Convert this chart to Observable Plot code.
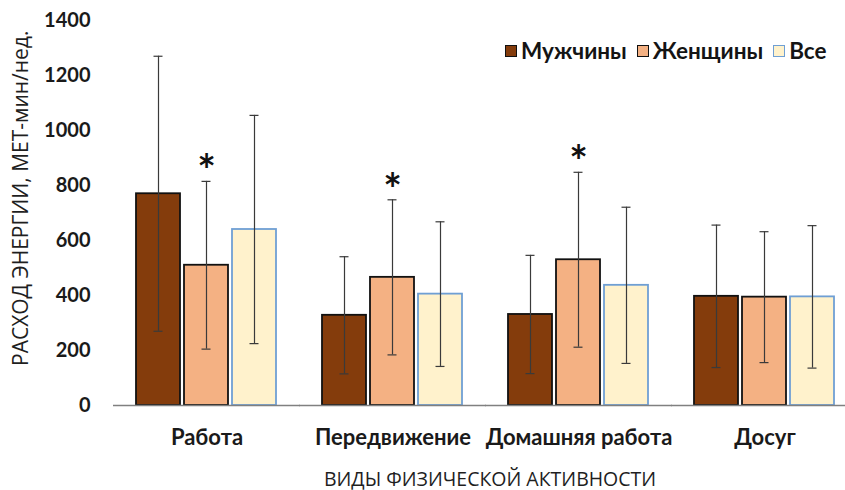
<!DOCTYPE html>
<html>
<head>
<meta charset="utf-8">
<script src="https://cdn.jsdelivr.net/npm/d3@7"></script>
<script src="https://cdn.jsdelivr.net/npm/@observablehq/plot@0.6"></script>
<style>
  html, body { margin: 0; padding: 0; background: #fff; }
  #chart { position: relative; width: 845px; height: 490px; overflow: hidden; }
  .ytitle {
    position: absolute; left: 10px; top: 366px;
    transform-origin: 0 0; transform: rotate(-90deg);
    font-family: "Open Sans", sans-serif; font-size: 21px; line-height: 1; color: #1f1f1f;
    white-space: nowrap;
  }
  .xtitle {
    position: absolute; left: 490px; top: 478px;
    transform: translate(-50%, -50%);
    font-family: "Open Sans", sans-serif; font-size: 19.5px; color: #1f1f1f;
    white-space: nowrap;
  }
  .legend {
    position: absolute; left: 505px; top: 37px;
    display: flex; align-items: center; gap: 10px;
    font-family: Lato, sans-serif; font-weight: bold; font-size: 22.5px; color: #141414;
  }
  .legend .item { display: flex; align-items: center; gap: 4px; }
  .legend .sw { width: 10px; height: 10px; border: 1.6px solid #000; }
</style>
</head>
<body>
<div id="chart"></div>
<script>
// Activity domains and sexes
const categories = ["Работа", "Передвижение", "Домашняя работа", "Досуг"];
const groups = ["Мужчины", "Женщины", "Все"];

// Mean energy expenditure (MET-min/week) and standard deviations
const menMean   = [770, 328, 331, 397];
const menSD     = [500, 213, 215, 259];
const womenMean = [510, 466, 530, 394];
const womenSD   = [305, 282, 318, 238];
const allMean   = [640, 405, 437, 395];
const allSD     = [415, 263, 284, 259];

// Significant difference between women and men
const significant = [true, true, true, false];

const yTicks = [0, 200, 400, 600, 800, 1000, 1200, 1400];

const fills   = {"Мужчины": "#843C0C", "Женщины": "#F4B183", "Все": "#FFF2CC"};
const strokes = {"Мужчины": "#111111", "Женщины": "#111111", "Все": "#6F9FD4"};

const means = [menMean, womenMean, allMean];
const sds = [menSD, womenSD, allSD];
const rows = [];
groups.forEach((g, gi) => {
  categories.forEach((c, ci) => {
    rows.push({
      category: c, group: g,
      mean: means[gi][ci], sd: sds[gi][ci],
      lo: means[gi][ci] - sds[gi][ci], hi: means[gi][ci] + sds[gi][ci],
      star: g === "Женщины" && significant[ci]
    });
  });
});

const barMarks = groups.map(g => Plot.barY(rows.filter(d => d.group === g), {
  fx: "category", x: "group", y: "mean",
  fill: fills[g], stroke: strokes[g], strokeWidth: 1.8
}));

const plot = Plot.plot({
  width: 845, height: 490,
  marginTop: 20, marginBottom: 85, marginLeft: 112, marginRight: 0,
  style: {fontFamily: "Lato, sans-serif", fontSize: "20px", fontWeight: "bold", color: "#1a1a1a", background: "white"},
  y: {domain: [0, 1400], label: null},
  x: {domain: groups, paddingInner: 0.08, paddingOuter: 0, axis: null},
  fx: {domain: categories, paddingInner: 0.233, paddingOuter: 0.0818, align: 0.721, label: null},
  marks: [
    Plot.axisY(yTicks, {tickSize: 0, tickFormat: d => String(d), label: null}),
    Plot.axisFx({anchor: "bottom", tickSize: 0, tickPadding: 24, fontSize: 22, label: null}),
    ...barMarks,
    Plot.ruleX(rows, {fx: "category", x: "group", y1: "lo", y2: "hi", stroke: "#3a3a3a", strokeWidth: 1.2}),
    Plot.tickY(rows, {fx: "category", x: "group", y: "hi", stroke: "#3a3a3a", strokeWidth: 1.2, insetLeft: 17.5, insetRight: 17.5}),
    Plot.tickY(rows, {fx: "category", x: "group", y: "lo", stroke: "#3a3a3a", strokeWidth: 1.2, insetLeft: 17.5, insetRight: 17.5}),
    Plot.text(rows.filter(d => d.star), {fx: "category", x: "group", y: "hi", text: () => "*",
      dy: -9, fontSize: 44, fontWeight: "bold", fill: "#111"}),
    Plot.ruleY([0], {stroke: "#808080", strokeWidth: 1.5, insetLeft: -22, insetRight: -22})
  ]
});

// Widen the gap between the y tick labels and the plot frame
d3.select(plot).selectAll("g")
  .filter(function () {
    const a = this.getAttribute("aria-label");
    return a && a.startsWith("y-axis");
  })
  .each(function () {
    const t = this.getAttribute("transform") || "";
    this.setAttribute("transform", "translate(-36,0) " + t);
  });

const chart = document.getElementById("chart");
chart.appendChild(plot);

const yt = document.createElement("div");
yt.className = "ytitle";
yt.textContent = "РАСХОД ЭНЕРГИИ, МЕТ-мин/нед.";
chart.appendChild(yt);

const xt = document.createElement("div");
xt.className = "xtitle";
xt.textContent = "ВИДЫ ФИЗИЧЕСКОЙ АКТИВНОСТИ";
chart.appendChild(xt);

const legend = document.createElement("div");
legend.className = "legend";
groups.forEach(g => {
  const item = document.createElement("div");
  item.className = "item";
  const sw = document.createElement("span");
  sw.className = "sw";
  sw.style.background = fills[g];
  sw.style.borderColor = strokes[g];
  const label = document.createElement("span");
  label.textContent = g;
  item.appendChild(sw);
  item.appendChild(label);
  legend.appendChild(item);
});
chart.appendChild(legend);
</script>
</body>
</html>
